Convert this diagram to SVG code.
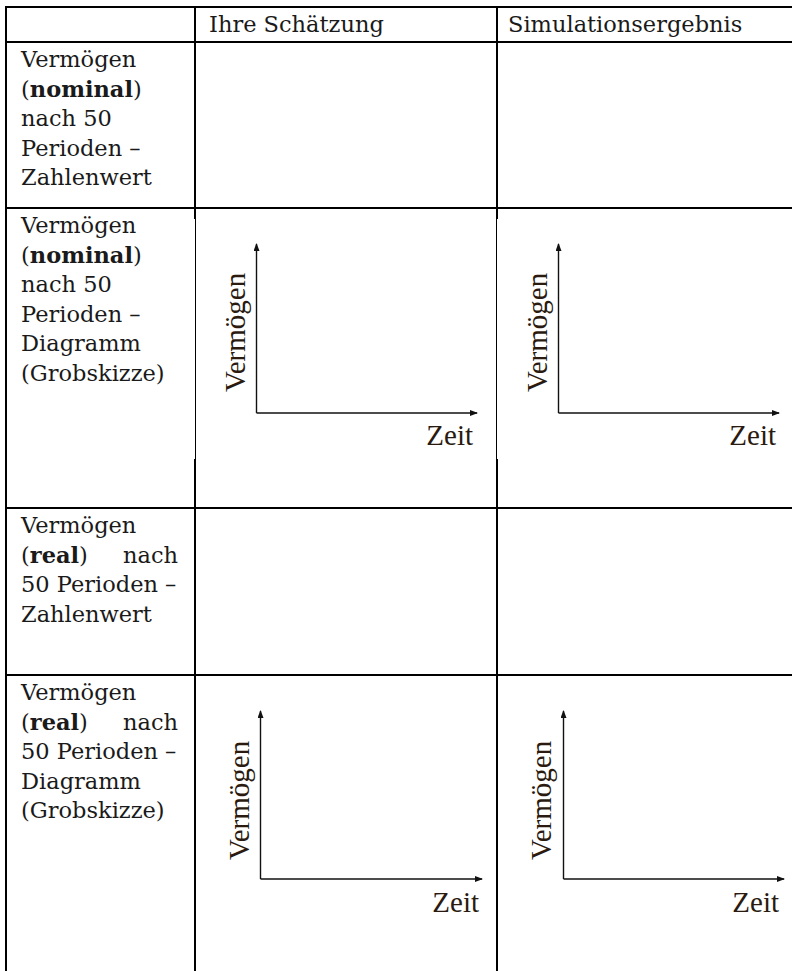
<svg xmlns="http://www.w3.org/2000/svg" width="793" height="971" viewBox="0 0 793 971">
<style>
.grid{stroke:#000;stroke-width:2;fill:none}
.thin{stroke:#000;stroke-width:1;fill:none}
.cell{font-family:"DejaVu Serif","Liberation Serif",serif;font-size:22.5px;fill:#1a1a1a}
.b{font-weight:bold}
.ax{stroke:#111;stroke-width:1.4;fill:none}
.lab{font-family:"Liberation Serif","Times New Roman",serif;font-size:29px;fill:#2a1a10}
</style>
<defs>
<marker id="arr" markerWidth="8" markerHeight="6" refX="7" refY="3" orient="auto" markerUnits="userSpaceOnUse">
<path d="M0,0 L8,3 L0,6 Z" fill="#111"/>
</marker>
</defs>
<rect width="793" height="971" fill="#fff"/>
<g id="table">
<line class="grid" x1="6" y1="7" x2="792" y2="7"/>
<line class="grid" x1="6" y1="42" x2="792" y2="42"/>
<line class="grid" x1="6" y1="208" x2="792" y2="208"/>
<line class="grid" x1="6" y1="508" x2="792" y2="508"/>
<line class="grid" x1="6" y1="675" x2="792" y2="675"/>
<line class="grid" x1="6" y1="6" x2="6" y2="971"/>
<line class="grid" x1="195" y1="6" x2="195" y2="219"/>
<line class="thin" x1="195.5" y1="219" x2="195.5" y2="459"/>
<line class="grid" x1="195" y1="459" x2="195" y2="971"/>
<line class="grid" x1="497" y1="6" x2="497" y2="219"/>
<line class="thin" x1="496.5" y1="219" x2="496.5" y2="459"/>
<line class="grid" x1="497" y1="459" x2="497" y2="971"/>
</g>
<g id="header">
<text class="cell" x="209" y="32">Ihre Schätzung</text>
<text class="cell" x="508" y="32">Simulationsergebnis</text>
</g>
<g id="row1">
<text class="cell" x="21" y="67">Vermögen</text>
<text class="cell" x="21" y="96.5">(<tspan class="b">nominal</tspan>)</text>
<text class="cell" x="21" y="126">nach 50</text>
<text class="cell" x="21" y="155.5">Perioden –</text>
<text class="cell" x="21" y="185">Zahlenwert</text>
</g>
<g id="row2">
<text class="cell" x="21" y="233">Vermögen</text>
<text class="cell" x="21" y="262.5">(<tspan class="b">nominal</tspan>)</text>
<text class="cell" x="21" y="292">nach 50</text>
<text class="cell" x="21" y="321.5">Perioden –</text>
<text class="cell" x="21" y="351">Diagramm</text>
<text class="cell" x="21" y="380.5">(Grobskizze)</text>
</g>
<g id="row3">
<text class="cell" x="21" y="533">Vermögen</text>
<text class="cell" x="21" y="562.5">(<tspan class="b">real</tspan>)</text>
<text class="cell" x="178" y="562.5" text-anchor="end">nach</text>
<text class="cell" x="21" y="592">50 Perioden –</text>
<text class="cell" x="21" y="621.5">Zahlenwert</text>
</g>
<g id="row4">
<text class="cell" x="21" y="700">Vermögen</text>
<text class="cell" x="21" y="729.5">(<tspan class="b">real</tspan>)</text>
<text class="cell" x="178" y="729.5" text-anchor="end">nach</text>
<text class="cell" x="21" y="759">50 Perioden –</text>
<text class="cell" x="21" y="788.5">Diagramm</text>
<text class="cell" x="21" y="818">(Grobskizze)</text>
</g>
<g id="connectors">
<path class="ax" d="M256.5,413 L256.5,244" marker-end="url(#arr)"/>
<path class="ax" d="M256.5,413 L477,413" marker-end="url(#arr)"/>
<path class="ax" d="M558.5,413 L558.5,244" marker-end="url(#arr)"/>
<path class="ax" d="M558.5,413 L779,413" marker-end="url(#arr)"/>
<path class="ax" d="M260.5,879 L260.5,711" marker-end="url(#arr)"/>
<path class="ax" d="M260.5,879 L482,879" marker-end="url(#arr)"/>
<path class="ax" d="M563.5,879 L563.5,711" marker-end="url(#arr)"/>
<path class="ax" d="M563.5,879 L784,879" marker-end="url(#arr)"/>
</g>
<g id="chart1">
<text class="lab" transform="translate(245,392) rotate(-90)">Vermögen</text>
<text class="lab" x="473" y="445" text-anchor="end">Zeit</text>
</g>
<g id="chart2">
<text class="lab" transform="translate(547,392) rotate(-90)">Vermögen</text>
<text class="lab" x="776" y="445" text-anchor="end">Zeit</text>
</g>
<g id="chart3">
<text class="lab" transform="translate(249,860) rotate(-90)">Vermögen</text>
<text class="lab" x="479" y="912" text-anchor="end">Zeit</text>
</g>
<g id="chart4">
<text class="lab" transform="translate(551,860) rotate(-90)">Vermögen</text>
<text class="lab" x="779" y="912" text-anchor="end">Zeit</text>
</g>
</svg>
